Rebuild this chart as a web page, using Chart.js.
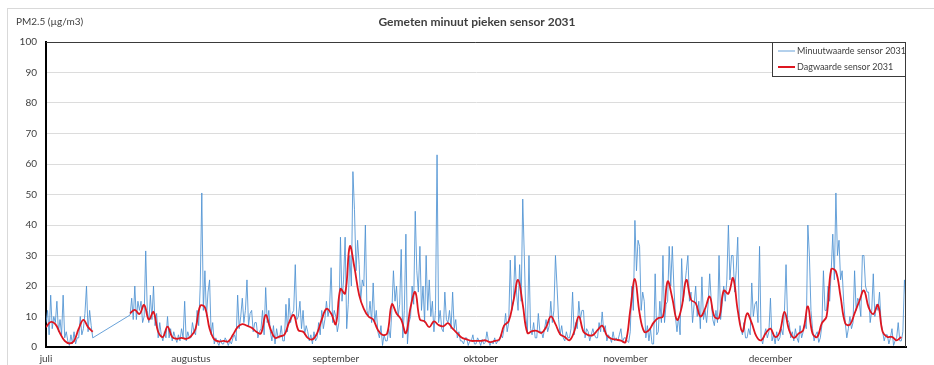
<!DOCTYPE html>
<html>
<head>
<meta charset="utf-8">
<script src="https://cdn.jsdelivr.net/npm/chart.js@4.4.1/dist/chart.umd.min.js"></script>
<style>
    body { margin: 0; background: #fff; }
    #wrap { width: 934px; height: 365px; }
</style>
</head>
<body>
<div id="wrap"><canvas id="pmChart" width="934" height="365"></canvas></div>
<script>
// x axis is in days from 1 juli; month labels every 31 days like the original sheet
const monthLabels = ["juli", "augustus", "september", "oktober", "november", "december"];
const monthTicks = [0, 31, 62, 93, 124, 155];
const yTicks = [0, 10, 20, 30, 40, 50, 60, 70, 80, 90, 100];

const titleText = "Gemeten minuut pieken sensor 2031";
const unitText = "PM2.5 (\u00b5g/m3)";
const seriesNames = ["Minuutwaarde sensor 2031", "Dagwaarde sensor 2031"];

// minute peaks, read off at third-of-a-day steps, one line = 3 days
// (null = no data, the line is bridged like in the sheet)
const minuteValues = [
    8, 12, 4,  17, 6, 10,  8, 15, 5,
    9, 4, 17,  3, 5, 2,  0.5, 4, 1,
    5, 1, 3,  3, 10, 4,  6, 11, 20,
    5, 12, 7,  3, null, null,  null, null, null,
    null, null, null,  null, null, null,  null, null, null,
    null, null, null,  null, null, null,  null, null, null,
    10.5, 16, 9,  20, 9, 15,  12, 15, 8,
    10, 31.5, 12,  8, 17, 9,  20, 7, 11,
    3, 8, 4,  2, 5, 3,  10, 3, 6,
    2, 5, 3,  1.5, 4, 2,  6, 3, 15,
    2, 5, 3,  3, 8, 5,  4, 12, 7,
    20, 50.5, 12,  25, 10, 18,  22, 4, 8,
    1, 3, 1.5,  0.5, 2.5, 1,  1, 3, 2,
    0.5, 2, 1,  3, 4, 2,  17, 6, 10,
    16, 8, 12,  22, 7, 11,  12, 5, 8,
    8, 3, 5,  6, 12, 4,  19.5, 8, 12,
    5, 2, 7,  1, 6, 3,  3, 7, 2,
    2, 14, 5,  16, 8, 11,  12, 27, 9,
    10, 15, 6,  12, 4, 7,  5, 2, 4,
    1, 5, 2,  3, 8, 4,  12, 6, 9,
    15, 10, 13,  26, 8, 12,  10, 5, 8,
    36, 15, 22,  36, 6, 14,  30, 20, 57.5,
    45, 25, 35,  27, 15, 22,  20, 40, 12,
    10, 15, 8,  21, 8, 12,  5, 3, 7,
    0.5, 4, 2,  2, 6, 3,  12, 25, 15,
    20, 10, 14,  32, 3, 12,  37, 1, 8,
    10, 20, 14,  44.5, 25, 18,  33, 12, 20,
    8, 30, 12,  22, 10, 15,  5, 12, 63,
    8, 12, 6,  5, 18, 9,  8, 12, 6,
    18, 6, 9,  3, 5, 2,  2, 1, 3,
    3, 0.5, 2,  2, 4, 1,  1, 3, 2,
    0.5, 2.5, 1,  1.5, 5, 2,  0.5, 2, 1,
    3, 1, 2,  2, 4, 3,  6, 11, 5,
    8, 28.5, 12,  15, 30, 18,  12, 27, 15,
    48.5, 30, 10,  5, 30, 6,  4, 8, 3,
    3, 11, 5,  5, 3, 6,  9, 5, 7,
    15, 8, 12,  30, 20, 9,  4, 7, 3,
    2, 5, 3,  3, 6, 18,  4, 8, 6,
    15, 9, 12,  12, 3, 6,  5, 2, 4,
    6, 4, 3,  3, 8, 5,  11.5, 5, 7,
    2, 4, 3,  1.5, 5, 2,  3, 2, 4,
    6, 1.5, 3,  3, 2, 1.5,  5, 20, 12,
    41.5, 25, 35,  33, 12, 18,  15, 3, 7,
    2, 6, 1,  1, 24, 4,  5, 15, 8,
    30, 8, 14,  15, 33, 20,  33, 20, 10,
    5, 10, 4,  29, 15, 20,  25, 30, 15,
    18, 8, 14,  20, 10, 15,  6, 23, 9,
    12, 8, 14,  24, 15, 9,  7, 12, 8,
    30, 9, 14,  20, 15, 22,  40, 22, 30,
    30, 18, 25,  36, 10, 6,  4, 8, 3,
    3, 6, 4,  21, 10, 14,  15, 8, 33,
    3, 1, 4,  6, 3, 5,  16, 2, 4,
    1, 5, 2,  3, 6, 4,  12, 27, 9,
    8, 3, 5,  2, 6, 3,  1.5, 7, 3,
    5, 8, 6,  40, 30, 12,  6, 2, 4,
    5, 1.5, 3,  7, 25, 12,  12, 20, 15,
    25, 37, 22,  50.5, 30, 35,  22, 25, 15,
    8, 3, 6,  10, 6, 8,  25, 12, 16,
    15, 10, 30,  30, 20, 18,  18, 8, 12,
    24, 10, 14,  12, 18, 8,  5, 2, 4,
    4, 1, 3,  6, 0.5, 2,  3, 8, 2,
    2, 5, 22,  15
];

// daily averages, one per day
const dayValues = [
    6.5, 8.2, 7.5, 4.5, 2, 1.2, 2, 6, 8.9, 6.5,
    5, null, null, null, null, null, null, null, 11, 12.2,
    10.8, 13.8, 9, 11.5, 5, 3.3, 6.7, 3.3, 2.7, 3,
    2.7, 3.5, 6, 13.5, 13, 6, 2.5, 1.8, 2, 1.8,
    4, 6.5, 7.5, 7, 6.3, 5, 4.5, 10.5, 6, 3,
    3.5, 4, 8, 10.5, 5.5, 5, 3, 2.5, 4.5, 9,
    12.5, 11, 7.5, 19, 17.5, 33, 26, 17, 12.5, 10,
    9, 5.6, 4, 4.5, 14, 11, 9, 4.5, 13, 18,
    9, 8.4, 6.5, 8.4, 7.2, 6.8, 7.8, 6, 4.5, 3,
    2.5, 2, 2, 2, 2.2, 1.6, 2, 2.5, 7, 8.5,
    15, 22, 14, 4.6, 5.2, 5.3, 4.6, 6.5, 10, 7.5,
    4.2, 3.3, 2.2, 5, 10, 5, 3.9, 3.9, 5.5, 7,
    3.8, 2.7, 2.4, 2.1, 1.6, 12, 22.3, 11, 5, 5.5,
    8, 9.5, 10, 21.5, 16, 8.9, 13, 22, 15.5, 14.4,
    10, 12.5, 16.5, 10, 9.5, 18.5, 17.5, 22.6, 12, 5,
    11, 7.8, 3.5, 2.2, 4.5, 6, 3.3, 5, 11.5, 5.5,
    3, 4.4, 5.5, 13.3, 4.4, 3.3, 7.8, 10, 25.5, 24.8,
    16.5, 7.8, 7.3, 11, 15, 18.5, 13, 10.8, 13.8, 5,
    3.3, 3.3, 2.2, 3.3
];

const minutePoints = minuteValues.map((v, i) => ({ x: i / 3, y: v }));
const dayPoints = dayValues.map((v, i) => ({ x: i, y: v }));

const blue = "rgba(78, 146, 210, 0.85)";
const red = "rgb(222, 22, 32)";
const textGrey = "#404040";
const fontName = "Lato, 'Liberation Sans', sans-serif";

const decorations = {
    id: "decorations",
    beforeDraw(chart) {
        const ctx = chart.ctx;
        ctx.save();
        ctx.strokeStyle = "#d9d9d9";
        ctx.lineWidth = 1;
        ctx.strokeRect(7.5, 8.5, 940, 400);
        ctx.restore();
    },
    afterDraw(chart) {
        const { ctx, chartArea: a } = chart;
        ctx.save();

        // frame on top/right of plot area
        ctx.strokeStyle = "#3a3a3a";
        ctx.lineWidth = 1;
        ctx.beginPath();
        ctx.moveTo(a.left, a.top + 0.5);
        ctx.lineTo(a.right - 0.5, a.top + 0.5);
        ctx.lineTo(a.right - 0.5, a.bottom);
        ctx.stroke();

        ctx.fillStyle = textGrey;
        ctx.textBaseline = "middle";
        ctx.font = "bold 12px " + fontName;
        ctx.textAlign = "center";
        ctx.fillText(titleText, 477, 22);

        ctx.font = "10px " + fontName;
        ctx.textAlign = "left";
        ctx.fillText(unitText, 16, 22);

        // legend box, top right inside plot
        const bx = 772, by = a.top, bw = a.right - bx, bh = 34;
        ctx.fillStyle = "#fff";
        ctx.fillRect(bx, by, bw, bh);
        ctx.strokeStyle = "#3a3a3a";
        ctx.strokeRect(bx + 0.5, by + 0.5, bw - 1, bh);

        const rows = [
            { text: seriesNames[0], color: blue, w: 1, y: by + 9 },
            { text: seriesNames[1], color: red, w: 2, y: by + 25 }
        ];
        ctx.font = "9px " + fontName;
        rows.forEach(r => {
            ctx.strokeStyle = r.color;
            ctx.lineWidth = r.w;
            ctx.beginPath();
            ctx.moveTo(778, r.y);
            ctx.lineTo(795, r.y);
            ctx.stroke();
            ctx.fillStyle = textGrey;
            ctx.fillText(r.text, 797, r.y);
        });
        ctx.restore();
    }
};

new Chart(document.getElementById("pmChart"), {
    type: "line",
    data: {
        datasets: [
            {
                label: seriesNames[1],
                data: dayPoints,
                borderColor: red,
                borderWidth: 1.8,
                pointRadius: 0,
                tension: 0.4,
                spanGaps: false,
                order: 0
            },
            {
                label: seriesNames[0],
                data: minutePoints,
                borderColor: blue,
                borderWidth: 1,
                pointRadius: 0,
                tension: 0,
                spanGaps: true,
                order: 1
            }
        ]
    },
    options: {
        responsive: false,
        animation: false,
        layout: { padding: { top: 42, right: 28, bottom: 0, left: 0 } },
        plugins: {
            legend: { display: false },
            title: { display: false },
            tooltip: { enabled: false }
        },
        scales: {
            x: {
                type: "linear",
                min: 0,
                max: 184,
                grid: { display: false, drawTicks: false, tickLength: 0 },
                border: { display: true, color: "#000", width: 2 },
                afterFit: s => { s.height = 18; },
                afterBuildTicks: s => { s.ticks = monthTicks.map(v => ({ value: v })); },
                ticks: {
                    autoSkip: false,
                    maxRotation: 0,
                    padding: 6,
                    color: textGrey,
                    font: { family: fontName, size: 10 },
                    callback: (v) => monthLabels[monthTicks.indexOf(v)]
                }
            },
            y: {
                min: 0,
                max: 100,
                grid: { color: "#dcdcdc", lineWidth: 1, drawTicks: false },
                border: { display: true, color: "#000", width: 2 },
                afterFit: s => { s.width = 46; },
                afterBuildTicks: s => { s.ticks = yTicks.map(v => ({ value: v })); },
                ticks: {
                    padding: 9,
                    color: textGrey,
                    font: { family: fontName, size: 10 }
                }
            }
        }
    },
    plugins: [decorations]
});
</script>
</body>
</html>
